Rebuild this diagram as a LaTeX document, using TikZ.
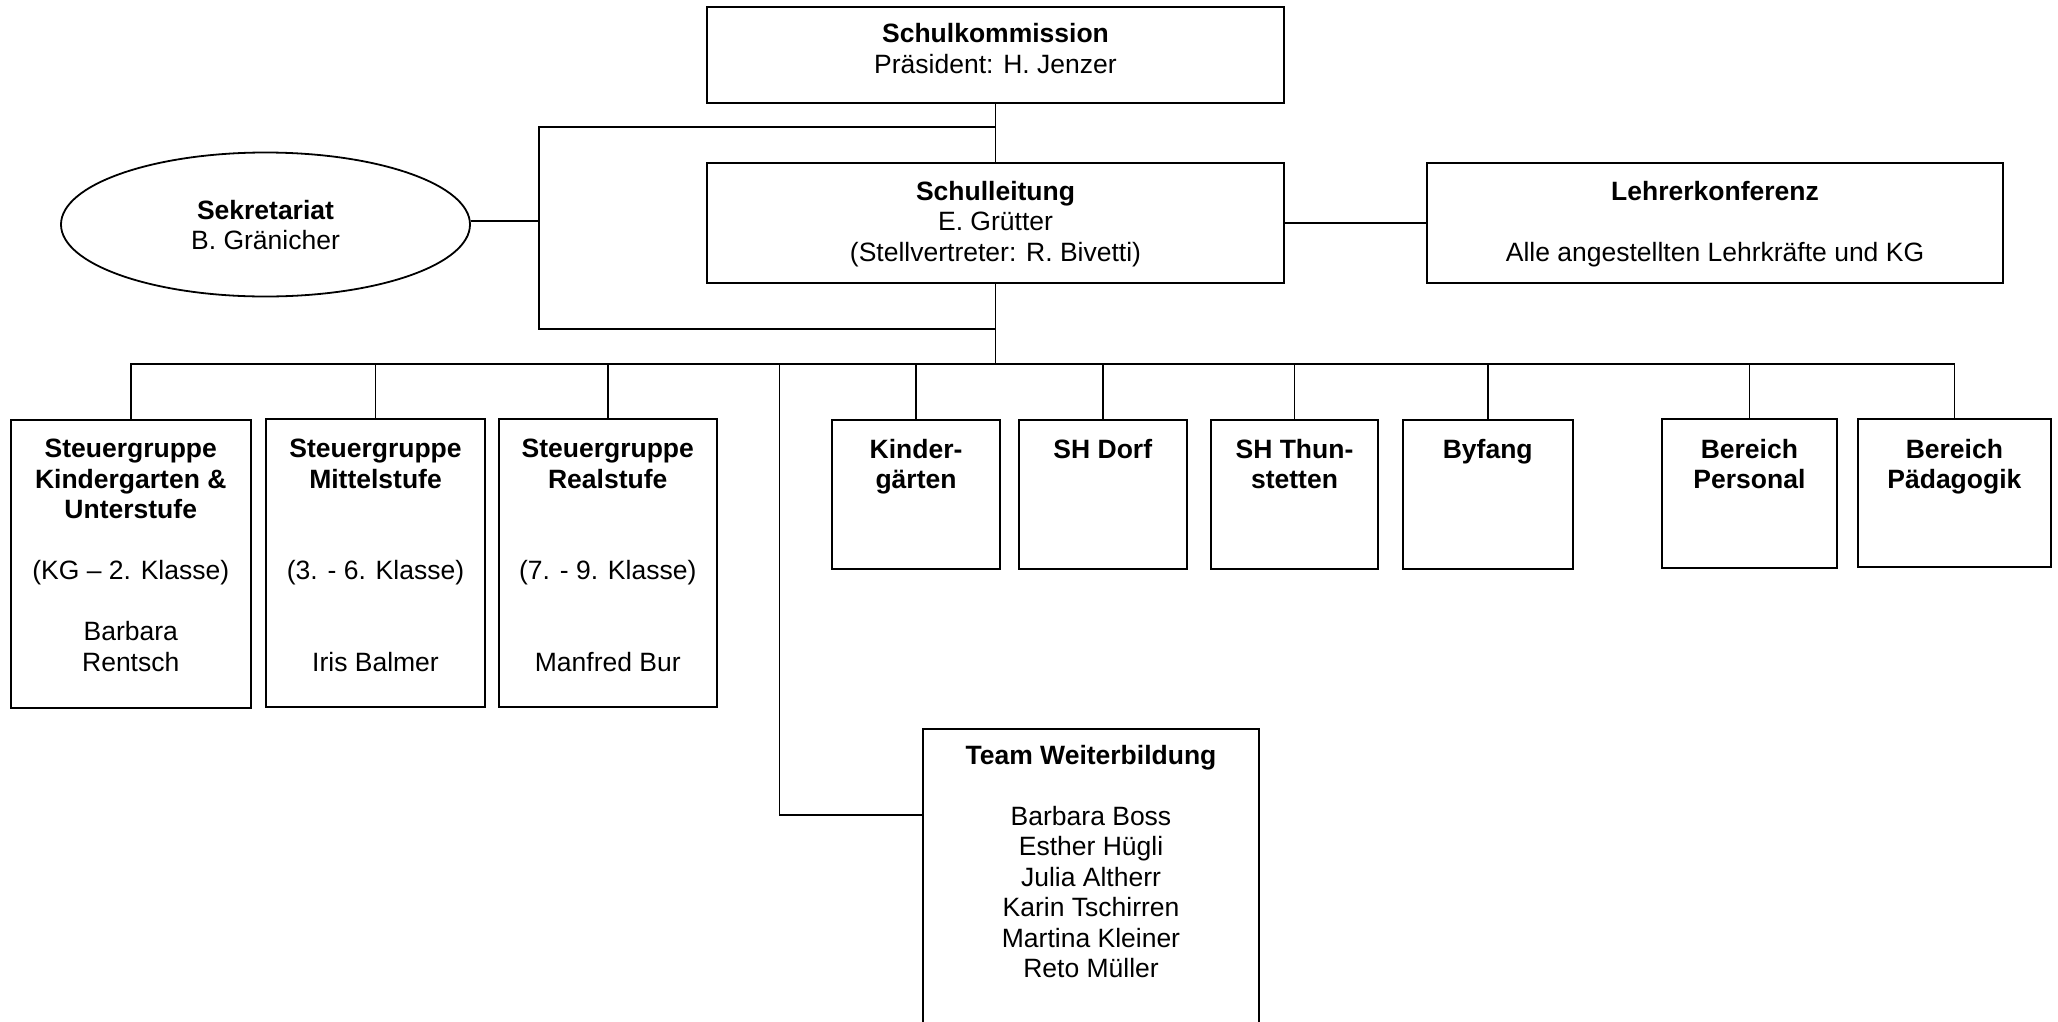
\documentclass[tikz,border=0pt]{standalone}
\usepackage{fontspec}
\setmainfont{Liberation Sans}
\usetikzlibrary{shapes.geometric}
\newcommand\dfont{\fontsize{26.5pt}{30.5pt}\selectfont}
\begin{document}
\begin{tikzpicture}[x=1pt,y=-1pt,
  box/.style={draw, line width=2pt, rectangle, inner sep=0pt},
  oval/.style={draw, line width=1.8pt, ellipse, inner sep=0pt},
  conn/.style={line width=1.5pt},
  txt/.style={align=center, anchor=north, inner sep=0pt, font=\dfont}]
\useasboundingbox (0,0) rectangle (2058,1021);
\fill[white] (0,0) rectangle (2058,1021);
\clip (0,0) rectangle (2058,1021);
% boxes
\node[box, minimum width=577pt, minimum height=96pt] (sk) at (995.5,55) {};
\node[box, minimum width=577pt, minimum height=120pt] (sl) at (995.5,223) {};
\node[box, minimum width=576pt, minimum height=120pt] (lk) at (1715,223) {};
\node[oval, minimum width=409pt, minimum height=144pt] (sek) at (265.5,224.5) {};
\node[box, minimum width=240.5pt, minimum height=288pt] (b1) at (130.75,564) {};
\node[box, minimum width=219pt, minimum height=288pt] (b2) at (375.5,563) {};
\node[box, minimum width=217.5pt, minimum height=288pt] (b3) at (607.75,563) {};
\node[box, minimum width=168.3pt, minimum height=149pt] (kg) at (916,494.5) {};
\node[box, minimum width=168.4pt, minimum height=149pt] (shd) at (1102.8,494.5) {};
\node[box, minimum width=167pt, minimum height=149pt] (sht) at (1294.5,494.5) {};
\node[box, minimum width=169.5pt, minimum height=149pt] (byf) at (1487.75,494.5) {};
\node[box, minimum width=175.2pt, minimum height=149pt] (bp) at (1749.4,493.5) {};
\node[box, minimum width=193.2pt, minimum height=148pt] (bpa) at (1954.4,493) {};
\node[box, minimum width=336pt, minimum height=311pt] (tw) at (1091,884.5) {};
% texts
\node[txt] (skt) at (995.5,23.5) {\textbf{Schulkommission}\\Präsident: H. Jenzer};
\node[txt] (slt) at (995.5,181) {\textbf{Schulleitung}\\E. Grütter\\(Stellvertreter: R. Bivetti)};
\node[txt] (lkt) at (1715,181) {\textbf{Lehrerkonferenz}\\ \mbox{}\\Alle angestellten Lehrkräfte und KG};
\node[txt] (sekt) at (265.5,200) {\textbf{Sekretariat}\\B. Gränicher};
\node[txt] (b1t) at (130.75,439) {\textbf{Steuergruppe}\\\textbf{Kindergarten \&}\\\textbf{Unterstufe}\\ \mbox{}\\(KG – 2. Klasse)\\ \mbox{}\\Barbara\\Rentsch};
\node[txt] (b2t) at (375.5,439) {\textbf{Steuergruppe}\\\textbf{Mittelstufe}\\ \mbox{}\\ \mbox{}\\(3. - 6. Klasse)\\ \mbox{}\\ \mbox{}\\Iris Balmer};
\node[txt] (b3t) at (607.75,439) {\textbf{Steuergruppe}\\\textbf{Realstufe}\\ \mbox{}\\ \mbox{}\\(7. - 9. Klasse)\\ \mbox{}\\ \mbox{}\\Manfred Bur};
\node[txt] (kgt) at (916,439) {\textbf{Kinder-}\\\textbf{gärten}};
\node[txt] (shdt) at (1102.8,439) {\textbf{SH Dorf}};
\node[txt] (shtt) at (1294.5,439) {\textbf{SH Thun-}\\\textbf{stetten}};
\node[txt] (byft) at (1487.75,439) {\textbf{Byfang}};
\node[txt] (bpt) at (1749.4,439) {\textbf{Bereich}\\\textbf{Personal}};
\node[txt] (bpat) at (1954.4,439) {\textbf{Bereich}\\\textbf{Pädagogik}};
\node[txt] (twt) at (1091,745) {\textbf{Team Weiterbildung}\\ \mbox{}\\Barbara Boss\\Esther Hügli\\Julia Altherr\\Karin Tschirren\\Martina Kleiner\\Reto Müller};
% connectors
\coordinate (ua) at (539,127);
\coordinate (la) at (539,329);
\coordinate (ec) at (539,221);
\coordinate (bus) at (995.5,364);
\coordinate (tj) at (779.5,815);
\draw[conn] (sk.south) -- (sl.north);
\draw[conn] (ua -| sk.south) -- (ua) -- (la) -- (la -| sl.south);
\draw[conn] (sek.east |- ec) -- (ec);
\draw[conn] (sl.east) -- (lk.west);
\draw[conn] (sl.south) -- (bus);
\draw[conn] (b1.north) -- (b1.north |- bus) -- (bpa.north |- bus) -- (bpa.north);
\foreach \n in {b2,b3,kg,shd,sht,byf,bp}{\draw[conn] (\n.north) -- (\n.north |- bus);}
\draw[conn] (tj |- bus) -- (tj) -- (tj -| tw.west);
\end{tikzpicture}
\end{document}
